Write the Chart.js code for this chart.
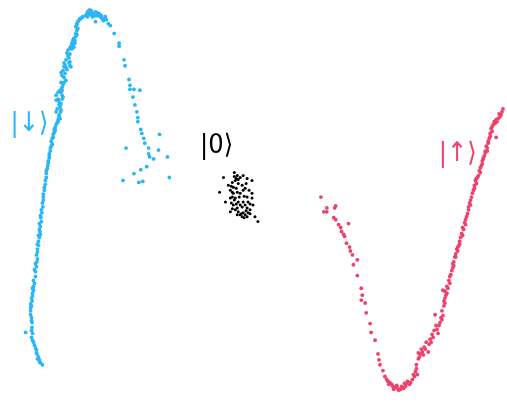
<!DOCTYPE html>
<html>
<head>
<meta charset="utf-8">
<script src="https://cdn.jsdelivr.net/npm/chart.js@4/dist/chart.umd.min.js"></script>
<style>
  html, body { margin: 0; padding: 0; background: #ffffff; }
  #wrap { width: 507px; height: 405px; }
</style>
</head>
<body>
<div id="wrap"><canvas id="c"></canvas></div>
<script>
// Readout clusters in the IQ plane (x = I, y = Q, Q axis pointing down)
const downSpin = [
  [39,368],[36,365],[34,362],[33.5,357],[33,353],[31,348],[30,345],[28,340],[22,335],[28,333],
  [28.5,330],[28.5,325],[28,320],[27,313],[28,308],[28.5,303],[29,298],[30,292],[31,285],[32,278],
  [33,268],[33.5,263],[34,260],[34,253],[34,250],[35,242],[36,238],[36.5,232],[37,227],[37.5,218],
  [38.5,213],[39.5,207],[40,200],[40,197],[41,190],[41,187],[42,180],[43,173],[44.5,165],[45,160],
  [46,153],[47,147],[48,140],[49,137],[50,133],[51,128],[53,123],[55,120],[57,117],[55,118],
  [57.5,110],[53,110],[54,107],[58,102],[53,98],[55,97],[59,97],[53,93],[59,93],[55,90],
  [58,90],[59,88],[59,85],[58,80],[63,78],[59,73],[58,70],[60,68],[61,64],[68,64],[62,62],
  [67,63],[61,60],[67,59],[63,57],[65,53],[64,50],[65,47],[67,45],[68,43],[70,42],[72,40],
  [70,37],[73,33],[73,30],[74,27],[73,23],[75,18],[77,15],[78,15],[83,12],[85,8],[87,6],
  [89,7],[85,13],[90,13],[93,8],[97,10],[98,13],[100,15],[102,15],[103,13],[93,18],[108,22],
  [112,30],[117,40],[117,43],[122,57],[123,63],[127,77],[128,83],[128,87],[132,87],[138,88],
  [131,95],[133,103],[135,110],[136,116],[136,120],[139,128],[140,132],[158,133],[142,137],
  [143,142],[124,147],[147,147],[157,149],[147,153],[148,156],[152,158],[166,156],[145,166],
  [139,169],[132,173],[168,177],[121,180],[137,182],[141,181],
  [42,184],[43,177],[44,168],[46,157],[47,150],[49,143],[51,131],[52,126],[56,113],[57,105],
  [56,100],[60,82],[61,75],[64,67],[66,55],[69,40],[71,35],[74,21],[76,17],[80,13],[86,10],
  [88,9],[91,10],[95,9],[99,12],[101,17],[38,222],[37,235],[35,246],[32,273],[30,288],[29,295],
  [27,317],[29,336],[32,351],[35,360],[37,366],
  [40,194],[39,203],[38,210],[37,216],[36,224],[36,230],[35,236],[34,245],[33,256],[32,265],
  [31,271],[30,282],[29,290],[28,300],[27,306],[27,310],[28,323],[29,343],[33,356],[36,363],
  [43,170],[45,162],[46,155],[48,145],[50,136],[52,129],[54,121],[56,115],[58,108],[56,103],
  [60,95],[57,88],[61,80],[62,71],[63,65],[66,60],[67,51],[69,46],[71,44],[72,37],[74,31],
  [75,25],[74,20],[79,14],[84,10],[86,7],[88,11],[92,12],[95,12],[99,14],[104,16],[106,20]
];

const zeroState = [
  [223,177],[234,172],[237,175],[240,177],[243,175],[247,178],[252,180],[219,192],[232,182],
  [235,180],[238,183],[242,185],[233,187],[230,190],[237,192],[240,193],[243,190],[247,197],
  [232,197],[235,198],[238,202],[243,202],[248,202],[252,198],[253,205],[225,202],[233,205],
  [237,208],[242,207],[247,208],[250,210],[238,212],[243,213],[245,215],[242,217],[247,217],
  [250,214],[237,215],[258,222],[255,217],[230,212],[252,193],[228,185],[230,198],[236,178],
  [233,193],[245,188],[240,205],[235,210],[246,211],[240,215],[231,203],[239,197],[244,196],
  [234,176],[238,179],[231,186],[232,192],[234,200],[236,204],[245,205],[248,213],[244,218],
  [241,214],[236,188],[246,183],[249,190],[250,204],[232,209]
];

const upSpin = [
  [322,197],[325,212],[328,212],[328,208],[336,208],[337,206],[335,218],[337,220],[340,225],
  [342,228],[350,224],[343,232],[345,235],[346,237],[348,244],[351,248],[352,252],[354,256],
  [355,266],[359,261],[359,277],[363,290],[364,297],[363,302],[367,305],[368,315],[372,326],
  [373,335],[377,343],[380,357],[381,363],[382,368],[385,374],[387,380],[389,383],[392,386],
  [394,388],[397,391],[400,392],[403,393],[406,392],[407,387],[409,387],[413,386],[415,383],
  [417,380],[418,375],[421,362],[421,356],[423,357],[426,358],[427,350],[431,355],[432,347],
  [433,342],[436,340],[437,333],[441,336],[443,325],[444,320],[446,318],[438,317],[447,308],
  [447,303],[448,300],[446,292],[448,293],[450,288],[453,285],[453,278],[455,272],[457,267],
  [457,263],[458,258],[459,255],[461,252],[462,247],[463,242],[464,238],[467,230],[468,223],
  [470,217],[472,210],[473,203],[475,197],[477,190],[478,185],[479,180],[482,175],[483,170],
  [485,165],[486,160],[488,155],[489,150],[490,145],[492,142],[493,137],[494,132],[495,127],
  [497,123],[500,136],[498,120],[502,117],[505,113],[507,107],
  [395,390],[399,389],[404,390],[410,385],[416,378],[419,368],[424,352],[429,345],[435,337],
  [439,328],[445,313],[449,297],[452,282],[456,269],[460,250],[465,234],[469,220],[474,200],
  [480,178],[484,167],[487,157],[491,147],[496,125],[500,118],[503,112],[391,388],[419,372],
  [390,385],[396,393],[401,394],[408,390],[412,388],[420,378],[422,360],[425,355],[428,352],
  [434,345],[440,332],[442,328],[445,322],[448,305],[450,295],[451,290],[454,276],[456,265],
  [459,258],[461,248],[463,245],[466,236],[466,228],[469,225],[471,214],[472,207],[474,205],
  [476,193],[478,188],[480,183],[481,177],[484,172],[486,163],[487,158],[489,152],[491,150],
  [492,140],[494,135],[496,130],[499,122],[501,120],[504,115],[506,110]
];

const stateLabels = ['|\u2193\u27E9', '|0\u27E9', '|\u2191\u27E9'];
const labelAnchors = [[26,122], [216,145], [461,153]];
const clusterColors = ['#29b6f6', '#000000', '#f0416a'];

// Writes each state's ket next to its cluster, positioned through the scales
const ketLabels = {
  id: 'ketLabels',
  afterDatasetsDraw(chart) {
    const { ctx, scales: { x, y } } = chart;
    ctx.save();
    ctx.textAlign = 'center';
    ctx.textBaseline = 'middle';
    stateLabels.forEach((txt, i) => {
      ctx.fillStyle = clusterColors[i];
      ctx.font = (i === 1 ? '400 ' : '300 ') + '27px "DejaVu Sans Condensed", "DejaVu Sans"';
      ctx.fillText(txt, x.getPixelForValue(labelAnchors[i][0]), y.getPixelForValue(labelAnchors[i][1]));
    });
    ctx.restore();
  }
};

const toPoints = arr => arr.map(p => ({ x: p[0], y: p[1] }));

new Chart(document.getElementById('c'), {
  type: 'scatter',
  data: {
    datasets: [
      { data: toPoints(downSpin), backgroundColor: clusterColors[0], borderWidth: 0, pointRadius: 1.9 },
      { data: toPoints(zeroState), backgroundColor: clusterColors[1], borderWidth: 0, pointRadius: 1.5 },
      { data: toPoints(upSpin), backgroundColor: clusterColors[2], borderWidth: 0, pointRadius: 1.9 }
    ]
  },
  options: {
    responsive: true,
    maintainAspectRatio: false,
    animation: false,
    layout: { padding: 0 },
    clip: false,
    plugins: { legend: { display: false }, tooltip: { enabled: false } },
    scales: {
      x: { type: 'linear', min: 0, max: 507, display: false },
      y: { type: 'linear', min: 0, max: 405, reverse: true, display: false }
    }
  },
  plugins: [ketLabels]
});
</script>
</body>
</html>
